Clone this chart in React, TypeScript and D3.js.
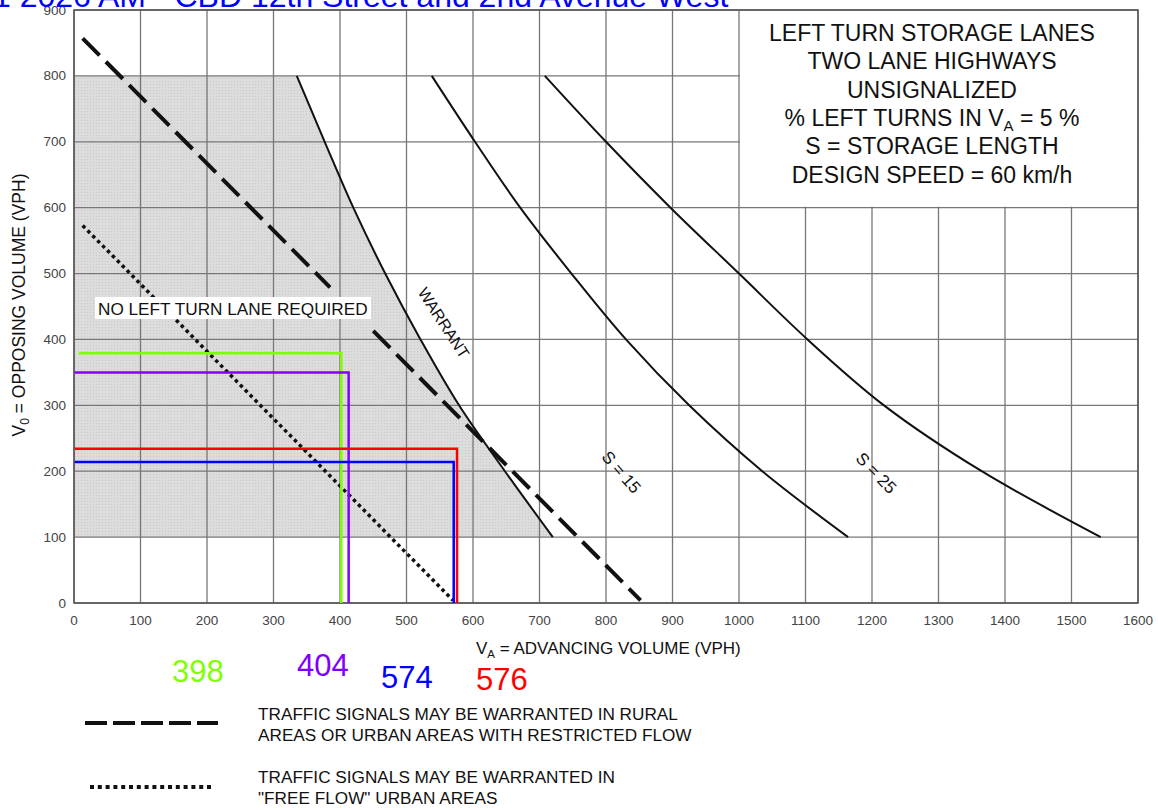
import React from "react";
import * as d3 from "d3";

const W = 1158;
const H = 810;

// Axis ticks
const xTickValues = [0, 100, 200, 300, 400, 500, 600, 700, 800, 900, 1000, 1100, 1200, 1300, 1400, 1500, 1600];
const yTickValues = [0, 100, 200, 300, 400, 500, 600, 700, 800, 900];

// Warrant curve (boundary of "no left turn lane required" region)
const warrantVa = [335, 377, 420, 468, 521, 579, 648, 720];
const warrantV0 = [800, 700, 600, 500, 400, 300, 200, 100];
// Storage length S = 15 curve
const s15Va = [538, 603, 671, 748, 830, 925, 1035, 1164];
const s15V0 = [800, 700, 600, 500, 400, 300, 200, 100];
// Storage length S = 25 curve
const s25Va = [708, 800, 897, 1000, 1103, 1218, 1365, 1544];
const s25V0 = [800, 700, 600, 500, 400, 300, 200, 100];

// Traffic signal warrant lines (rural dashed is drawn in two pieces)
const ruralSegA_Va = [13, 385];
const ruralSegA_V0 = [857, 479];
const ruralSegB_Va = [450, 852];
const ruralSegB_V0 = [413, 4];
const urbanVa = [13, 570];
const urbanV0 = [573, 4];

// Shaded region vertical bounds
const shadeTopV0 = 800;
const shadeBottomV0 = 100;

// Checked movements
const checkLabels = ["398", "404", "574", "576"];
const checkVa = [402, 413, 571, 576];
const checkV0 = [379, 350, 214, 234];
const checkStartVa = [7, 1, 1, 1];
const checkColors = ["#80ff00", "#8000ff", "#0000ff", "#ff0000"];

const infoLines = [
  "LEFT TURN STORAGE LANES",
  "TWO LANE HIGHWAYS",
  "UNSIGNALIZED",
  "% LEFT TURNS IN V|A| = 5 %",
  "S = STORAGE LENGTH",
  "DESIGN SPEED = 60 km/h",
];

const FONT = "'Liberation Sans', Arial, Helvetica, sans-serif";

export default function App() {
  const x = d3.scaleLinear().domain([0, 1600]).range([74, 1138]);
  const y = d3.scaleLinear().domain([0, 900]).range([603, 10]);

  const curveGen = d3
    .line<[number, number]>()
    .x((d) => x(d[0]))
    .y((d) => y(d[1]))
    .curve(d3.curveCatmullRom.alpha(0.5));
  const straight = d3
    .line<[number, number]>()
    .x((d) => x(d[0]))
    .y((d) => y(d[1]));

  const zip = (a: number[], b: number[]) => a.map((v, i) => [v, b[i]] as [number, number]);

  const warrantPts = zip(warrantVa, warrantV0);
  const warrantPath = curveGen(warrantPts) || "";
  const shadePath =
    `M${x(0)},${y(shadeTopV0)}` +
    warrantPath.replace(/^M/, "L") +
    `L${x(0)},${y(shadeBottomV0)}Z`;

  const x1000 = x(1000);
  const x1600 = x(1600);
  const y900 = y(900);
  const y600 = y(600);

  const gridColor = "#777";

  const valueLabelPos: [number, number][] = [
    [172, 682],
    [297, 676],
    [381, 688],
    [476, 690],
  ];

  return (
    <div style={{ position: "absolute", left: 0, top: 0, width: W, height: H, background: "#fff" }}>
      <svg width={W} height={H} style={{ display: "block", fontFamily: FONT }}>
        <defs>
          <pattern id="shade" width="3" height="3" patternUnits="userSpaceOnUse">
            <rect width="3" height="3" fill="#dcdcdc" />
            <rect width="1" height="1" fill="#c9c9c9" />
          </pattern>
        </defs>
        <rect width={W} height={H} fill="#fff" />

        {/* shaded region */}
        <path d={shadePath} fill="url(#shade)" stroke="none" />

        {/* grid */}
        {xTickValues.map((v) => (
          <line key={"gx" + v} x1={x(v)} x2={x(v)} y1={y(900)} y2={y(0)} stroke={gridColor} strokeWidth={1.3} />
        ))}
        {yTickValues.map((v) => (
          <line key={"gy" + v} x1={x(0)} x2={x(1600)} y1={y(v)} y2={y(v)} stroke={gridColor} strokeWidth={1.3} />
        ))}

        {/* info box */}
        <rect x={x1000 + 1} y={y900 + 1} width={x1600 - x1000 - 2} height={y600 - y900 - 2} fill="#fff" />
        {infoLines.map((t, i) => {
          const parts = t.split("|");
          return (
            <text key={"info" + i} x={932} y={41 + i * 28.3} textAnchor="middle" fontSize={23} fill="#111">
              {parts.length === 1 ? (
                t
              ) : (
                <>
                  {parts[0]}
                  <tspan dy={5} fontSize={15}>{parts[1]}</tspan>
                  <tspan dy={-5}>{parts[2]}</tspan>
                </>
              )}
            </text>
          );
        })}

        {/* border */}
        <rect x={x(0)} y={y(900)} width={x(1600) - x(0)} height={y(0) - y(900)} fill="none" stroke="#555" strokeWidth={1.5} />

        {/* tick labels */}
        {xTickValues.map((v) => (
          <text key={"tx" + v} x={x(v)} y={625} textAnchor="middle" fontSize={13.5} fill="#444">
            {v}
          </text>
        ))}
        {yTickValues.map((v) => (
          <text key={"ty" + v} x={66} y={y(v) + 4.5} textAnchor="end" fontSize={13.5} fill="#444">
            {v}
          </text>
        ))}

        {/* curves */}
        <path d={warrantPath} fill="none" stroke="#111" strokeWidth={2} />
        <path d={curveGen(zip(s15Va, s15V0)) || ""} fill="none" stroke="#111" strokeWidth={2} />
        <path d={curveGen(zip(s25Va, s25V0)) || ""} fill="none" stroke="#111" strokeWidth={2} />

        {/* signal warrant lines */}
        <path d={straight(zip(ruralSegA_Va, ruralSegA_V0)) || ""} fill="none" stroke="#111" strokeWidth={4} strokeDasharray="24 9" />
        <path d={straight(zip(ruralSegB_Va, ruralSegB_V0)) || ""} fill="none" stroke="#111" strokeWidth={4} strokeDasharray="24 9" />
        <path d={straight(zip(urbanVa, urbanV0)) || ""} fill="none" stroke="#111" strokeWidth={3.5} strokeDasharray="3.5 3.5" />

        {/* region label */}
        <rect x={95} y={297} width={276} height={22} fill="#fff" />
        <text x={98} y={315} fontSize={17.2} fill="#111">
          NO LEFT TURN LANE REQUIRED
        </text>

        {/* curve labels */}
        <text transform="translate(439,326) rotate(57)" textAnchor="middle" fontSize={16} fill="#111">
          WARRANT
        </text>
        <text transform="translate(617,476) rotate(49)" textAnchor="middle" fontSize={17} fill="#111">
          S = 15
        </text>
        <text transform="translate(872,477) rotate(46)" textAnchor="middle" fontSize={17} fill="#111">
          S = 25
        </text>

        {/* checked movements */}
        {checkVa.map((va, i) => (
          <path
            key={"chk" + i}
            d={straight([
              [checkStartVa[i], checkV0[i]],
              [va, checkV0[i]],
              [va, 0],
            ]) || ""}
            fill="none"
            stroke={checkColors[i]}
            strokeWidth={2.5}
          />
        ))}

        {/* axis titles */}
        <text x={476} y={654} fontSize={17} fill="#111">
          V<tspan dy={4} fontSize={11.5}>A</tspan>
          <tspan dy={-4}> = ADVANCING VOLUME (VPH)</tspan>
        </text>
        <text transform="translate(25,305) rotate(-90)" textAnchor="middle" fontSize={17.5} fill="#111">
          V<tspan dy={4} fontSize={12}>0</tspan>
          <tspan dy={-4}> = OPPOSING VOLUME (VPH)</tspan>
        </text>

        {/* value labels */}
        {checkLabels.map((t, i) => (
          <text key={"vl" + i} x={valueLabelPos[i][0]} y={valueLabelPos[i][1]} fontSize={31} fill={checkColors[i]}>
            {t}
          </text>
        ))}

        {/* legend */}
        <line x1={85} x2={218} y1={723} y2={723} stroke="#111" strokeWidth={4} strokeDasharray="22 6" />
        <text x={258} y={720} fontSize={17.2} fill="#111">TRAFFIC SIGNALS MAY BE WARRANTED IN RURAL</text>
        <text x={258} y={741} fontSize={17.2} fill="#111">AREAS OR URBAN AREAS WITH RESTRICTED FLOW</text>
        <line x1={90} x2={213} y1={787} y2={787} stroke="#111" strokeWidth={4} strokeDasharray="4 3.8" />
        <text x={258} y={783} fontSize={17.2} fill="#111">TRAFFIC SIGNALS MAY BE WARRANTED IN</text>
        <text x={258} y={804} fontSize={17.2} fill="#111">"FREE FLOW" URBAN AREAS</text>

        {/* clipped title */}
        <text x={-7} y={7} fontSize={32} fill="#0000ff">
          1 2026 AM  -  CBD 12th Street and 2nd Avenue West
        </text>
      </svg>
    </div>
  );
}
